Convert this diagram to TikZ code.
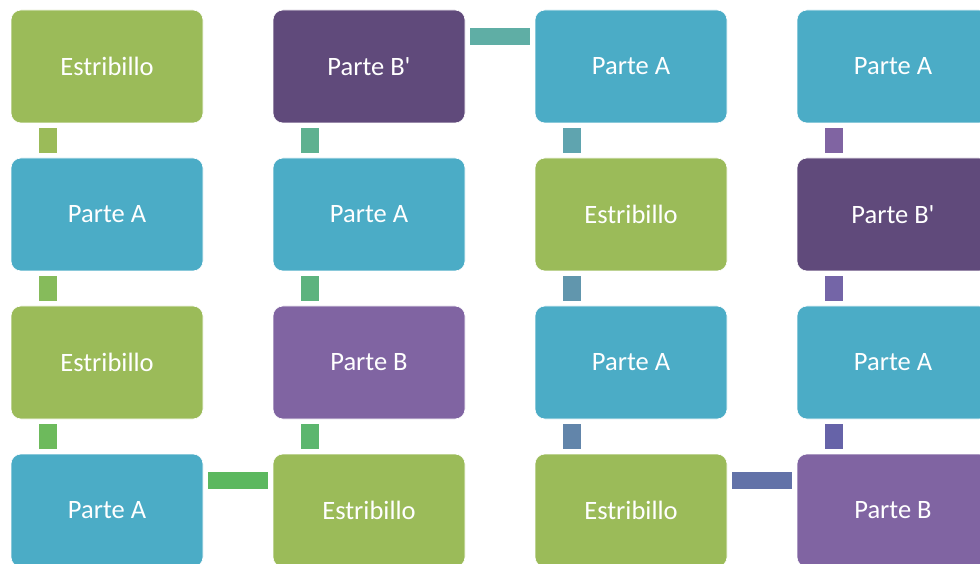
\documentclass[tikz,border=0pt]{standalone}
\usepackage{fontspec}
% plain family: no TeX ligature mapping, so ' stays a straight quote
\newfontfamily\boxfont{Carlito}
\usetikzlibrary{calc}

\definecolor{cgreen}{HTML}{9BBB59}
\definecolor{cblue}{HTML}{4BACC6}
\definecolor{cdpurple}{HTML}{604A7B}
\definecolor{cpurple}{HTML}{8064A2}
% bar colours along the sequence
\definecolor{k1}{HTML}{9BBB59}
\definecolor{k2}{HTML}{86BB5B}
\definecolor{k3}{HTML}{6DBA5C}
\definecolor{k4}{HTML}{5CB85F}
\definecolor{k5}{HTML}{5CB66E}
\definecolor{k6}{HTML}{5DB37E}
\definecolor{k7}{HTML}{5EB190}
\definecolor{k8}{HTML}{5FAEA5}
\definecolor{k9}{HTML}{5FA4AF}
\definecolor{k10}{HTML}{6196AD}
\definecolor{k11}{HTML}{6285AA}
\definecolor{k12}{HTML}{6272A8}
\definecolor{k13}{HTML}{6663A8}
\definecolor{k14}{HTML}{7465A7}
\definecolor{k15}{HTML}{8064A2}

\tikzset{
  part/.style={rounded corners=10pt, minimum width=192pt, minimum height=113pt,
    inner sep=0pt, draw=white, line width=0.6pt, text=white,
    font=\boxfont\fontsize{26.5}{30}\selectfont},
  estr/.style={part, fill=cgreen},
  pa/.style={part, fill=cblue},
  pb/.style={part, fill=cpurple},
  pbp/.style={part, fill=cdpurple},
  vbar/.style={line width=18pt, shorten >=5pt, shorten <=5pt},
  hbar/.style={line width=17pt, shorten >=5pt, shorten <=5pt},
}

\begin{document}
\begin{tikzpicture}[x=1pt,y=1pt]
\useasboundingbox (0,0) rectangle (980,563);
\clip (0,0) rectangle (980,563);

% column 1 (top to bottom)
\node[estr] (a1) at (107,496.5) {Estribillo};
\node[pa]   (a2) at (107,348.5) {Parte A};
\node[estr] (a3) at (107,200.5) {Estribillo};
\node[pa]   (a4) at (107,52.5)  {Parte A};
% column 2
\node[pbp]  (b1) at (369,496.5) {Parte B'};
\node[pa]   (b2) at (369,348.5) {Parte A};
\node[pb]   (b3) at (369,200.5) {Parte B};
\node[estr] (b4) at (369,52.5)  {Estribillo};
% column 3
\node[pa]   (c1) at (631,496.5) {Parte A};
\node[estr] (c2) at (631,348.5) {Estribillo};
\node[pa]   (c3) at (631,200.5) {Parte A};
\node[estr] (c4) at (631,52.5)  {Estribillo};
% column 4
\node[pa]   (d1) at (893,496.5) {Parte A};
\node[pbp]  (d2) at (893,348.5) {Parte B'};
\node[pa]   (d3) at (893,200.5) {Parte A};
\node[pb]   (d4) at (893,52.5)  {Parte B};

% vertical bars between stacked boxes, offset from the left edge
\foreach \u/\v/\k in {a1/a2/k1, a2/a3/k2, a3/a4/k3,
                      b3/b4/k5, b2/b3/k6, b1/b2/k7,
                      c1/c2/k9, c2/c3/k10, c3/c4/k11,
                      d3/d4/k13, d2/d3/k14, d1/d2/k15}
  \draw[vbar, \k] ($(\u.south west)+(37,0)$) -- ($(\v.north west)+(37,0)$);

% horizontal bars, near the top edge of each box
\draw[hbar, k4]  ($(a4.north east)+(0,-27)$) -- ($(b4.north west)+(0,-27)$);
\draw[hbar, k8]  ($(b1.north east)+(0,-27)$) -- ($(c1.north west)+(0,-27)$);
\draw[hbar, k12] ($(c4.north east)+(0,-27)$) -- ($(d4.north west)+(0,-27)$);
\end{tikzpicture}
\end{document}
